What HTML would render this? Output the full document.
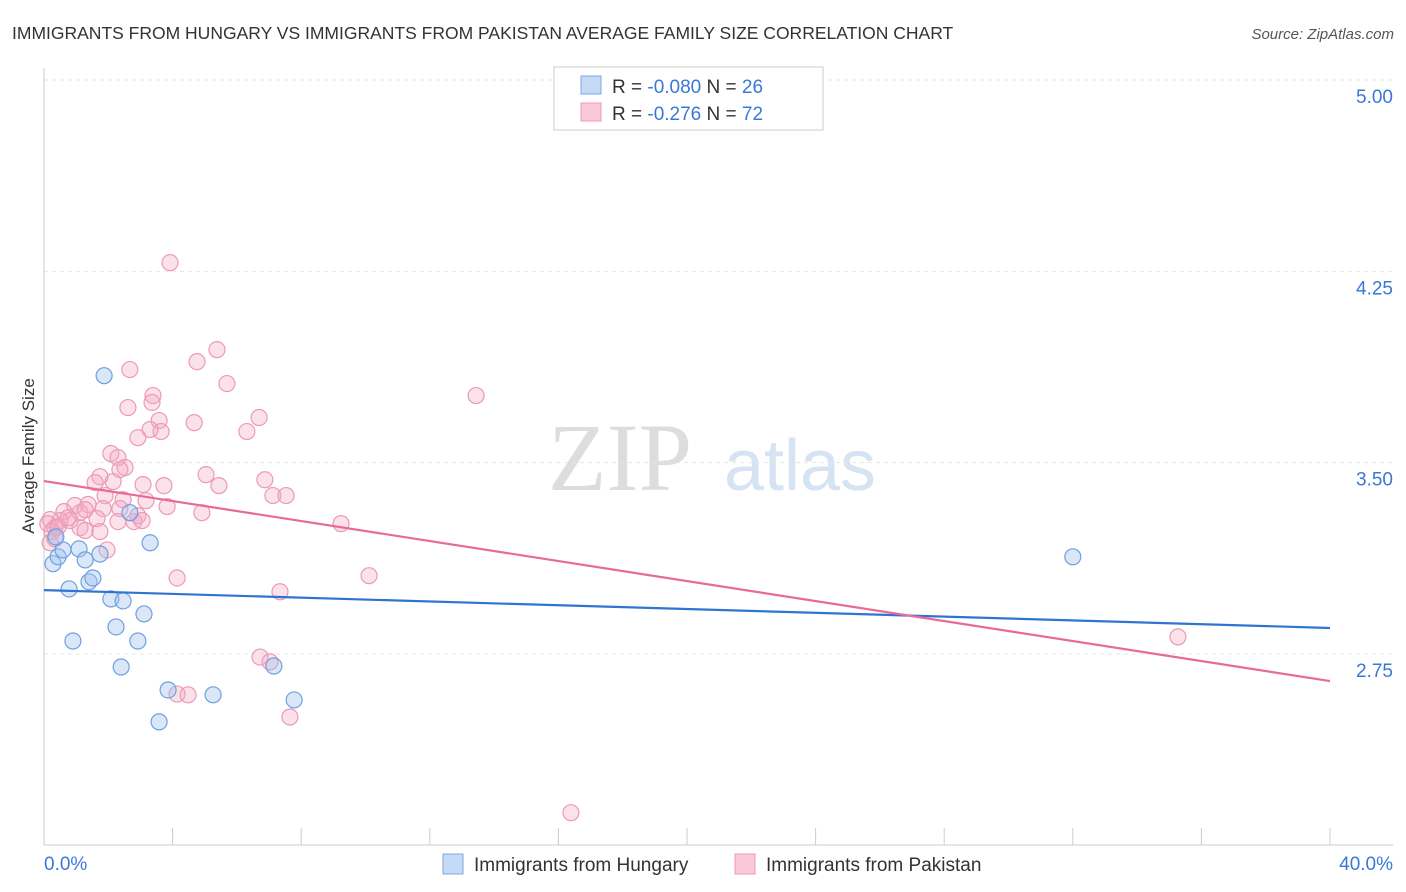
<!DOCTYPE html>
<html><head><meta charset="utf-8"><style>
body{margin:0;background:#fff;font-family:"Liberation Sans",sans-serif;}
svg{display:block}
</style></head><body>
<svg id="chart" width="1406" height="892">
<text x="12" y="39" font-size="17.5" fill="#333">IMMIGRANTS FROM HUNGARY VS IMMIGRANTS FROM PAKISTAN AVERAGE FAMILY SIZE CORRELATION CHART</text>
<text x="1394" y="39" font-size="15" fill="#555" font-style="italic" text-anchor="end">Source: ZipAtlas.com</text>
<text x="620" y="490" font-size="96" fill="#ddd" font-family="Liberation Serif,serif" text-anchor="middle">ZIP</text>
<text x="800" y="490" font-size="72" fill="#d6e3f3" text-anchor="middle">atlas</text>
<text transform="translate(34,456) rotate(-90)" font-size="17" fill="#333" text-anchor="middle">Average Family Size</text>
<g id="grid"></g><g id="pts"></g><g id="lines"></g>
<g>
<rect x="554" y="67" width="269" height="63" fill="#fff" stroke="#ccc"/>
<rect x="581" y="76" width="20" height="18" fill="#c5daf6" stroke="#7aa7e6"/>
<rect x="581" y="103" width="20" height="18" fill="#fac9d8" stroke="#ef9ab6"/>
<text x="612" y="93" font-size="19" fill="#333">R = <tspan fill="#3a78d8">-0.080</tspan>   N = <tspan fill="#3a78d8">26</tspan></text>
<text x="612" y="120" font-size="19" fill="#333">R =  <tspan fill="#3a78d8">-0.276</tspan>   N = <tspan fill="#3a78d8">72</tspan></text>
</g>
<g>
<rect x="443" y="854" width="20" height="20" fill="#c5daf6" stroke="#7aa7e6"/>
<text x="474" y="871" font-size="19" fill="#333">Immigrants from Hungary</text>
<rect x="735" y="854" width="20" height="20" fill="#fac9d8" stroke="#ef9ab6"/>
<text x="766" y="871" font-size="19" fill="#333">Immigrants from Pakistan</text>
</g>
</svg>
<script>
const yTicks=[2.75,3.5,4.25,5.0];
const yTickLabels=["2.75","3.50","4.25","5.00"];
const xTicks=[0,4,8,12,16,20,24,28,32,36,40];
const hungaryX=[1.87,0.28,0.44,0.59,0.37,0.78,1.09,1.28,1.40,1.52,1.74,2.08,2.46,2.24,3.11,0.90,2.92,2.40,3.86,5.26,3.58,7.15,7.78,3.30,2.67,32.0];
const hungaryY=[3.841,3.104,3.131,3.158,3.209,3.005,3.162,3.119,3.033,3.048,3.142,2.966,2.958,2.856,2.907,2.801,2.801,2.699,2.609,2.590,2.484,2.703,2.570,3.186,3.304,3.131];
const pakistanX=[3.92,5.38,4.76,2.67,5.69,3.39,3.36,2.61,6.69,4.67,3.58,3.64,3.30,6.31,2.92,13.44,2.08,2.30,2.52,2.36,1.74,3.08,3.73,5.04,5.44,6.87,1.59,2.15,1.90,2.46,3.17,7.12,7.53,3.83,1.37,0.96,1.12,1.28,2.36,1.84,0.62,0.81,0.50,0.19,0.12,0.34,0.25,0.44,0.75,1.65,2.30,2.80,2.92,3.05,4.91,9.24,1.12,1.28,1.74,0.19,1.96,4.14,10.11,7.34,6.72,7.03,4.14,4.48,7.65,16.39,35.27,0.34];
const pakistanY=[4.284,3.943,3.896,3.865,3.810,3.763,3.736,3.716,3.677,3.657,3.665,3.622,3.630,3.622,3.598,3.763,3.536,3.520,3.481,3.473,3.445,3.414,3.410,3.453,3.410,3.433,3.422,3.426,3.371,3.355,3.351,3.371,3.371,3.328,3.336,3.332,3.304,3.316,3.320,3.320,3.308,3.273,3.273,3.277,3.261,3.245,3.230,3.249,3.284,3.281,3.269,3.269,3.292,3.273,3.304,3.261,3.245,3.234,3.230,3.186,3.158,3.048,3.057,2.994,2.738,2.719,2.593,2.590,2.503,2.128,2.817,3.202];
const hungaryTrend=[3.0005,2.852];
const pakistanTrend=[3.428,2.644];
const X0=44,X1=1330,YT=80,YB=845;
const xs=v=>X0+(v/40)*(X1-X0);
const ys=v=>YT+(5-v)*(654-80)/2.25;
const NS="http://www.w3.org/2000/svg";
function mk(t,a,p){const e=document.createElementNS(NS,t);for(const k in a)e.setAttribute(k,a[k]);p.appendChild(e);return e;}
const grid=document.getElementById('grid');
yTicks.forEach((t,i)=>{
 const l=mk('line',{x1:X0,x2:1393,y1:ys(t),y2:ys(t),stroke:'#e6e6e6','stroke-dasharray':'4,4'},grid);
 
 
 const tx=mk('text',{x:1393,y:ys(t)+23,'font-size':19,fill:'#3a78d8','text-anchor':'end'},grid);
 tx.textContent=yTickLabels[i];
 
 
});
const ax=mk('line',{x1:X0,x2:X0,y1:68,y2:YB,stroke:'#ccc'},grid);


const bx=mk('line',{x1:X0,x2:1393,y1:YB,y2:YB,stroke:'#ccc'},grid);


xTicks.forEach(t=>{const l=mk('line',{x1:xs(t),x2:xs(t),y1:828,y2:YB,stroke:'#ccc'},grid);
 
 });
const t0=mk('text',{x:44,y:870,'font-size':19,fill:'#3a78d8'},grid);t0.textContent='0.0%';


const t1=mk('text',{x:1393,y:870,'font-size':19,fill:'#3a78d8','text-anchor':'end'},grid);t1.textContent='40.0%';


const pts=document.getElementById('pts');
pakistanX.forEach((x,i)=>{const c=mk('circle',{cx:xs(x),cy:ys(pakistanY[i]),r:8,fill:'rgba(244,170,196,0.35)',stroke:'#ec9ab6','stroke-width':1.2},pts);
 
 });
hungaryX.forEach((x,i)=>{const c=mk('circle',{cx:xs(x),cy:ys(hungaryY[i]),r:8,fill:'rgba(160,196,240,0.4)',stroke:'#6f9fe0','stroke-width':1.2},pts);
 
 });
const ln=document.getElementById('lines');
const bl=mk('line',{x1:xs(0),x2:xs(40),y1:ys(hungaryTrend[0]),y2:ys(hungaryTrend[1]),stroke:'#2f74d0','stroke-width':2.2},ln);


const pl=mk('line',{x1:xs(0),x2:xs(40),y1:ys(pakistanTrend[0]),y2:ys(pakistanTrend[1]),stroke:'#e8699a','stroke-width':2.2},ln);


</script>
</body></html>
